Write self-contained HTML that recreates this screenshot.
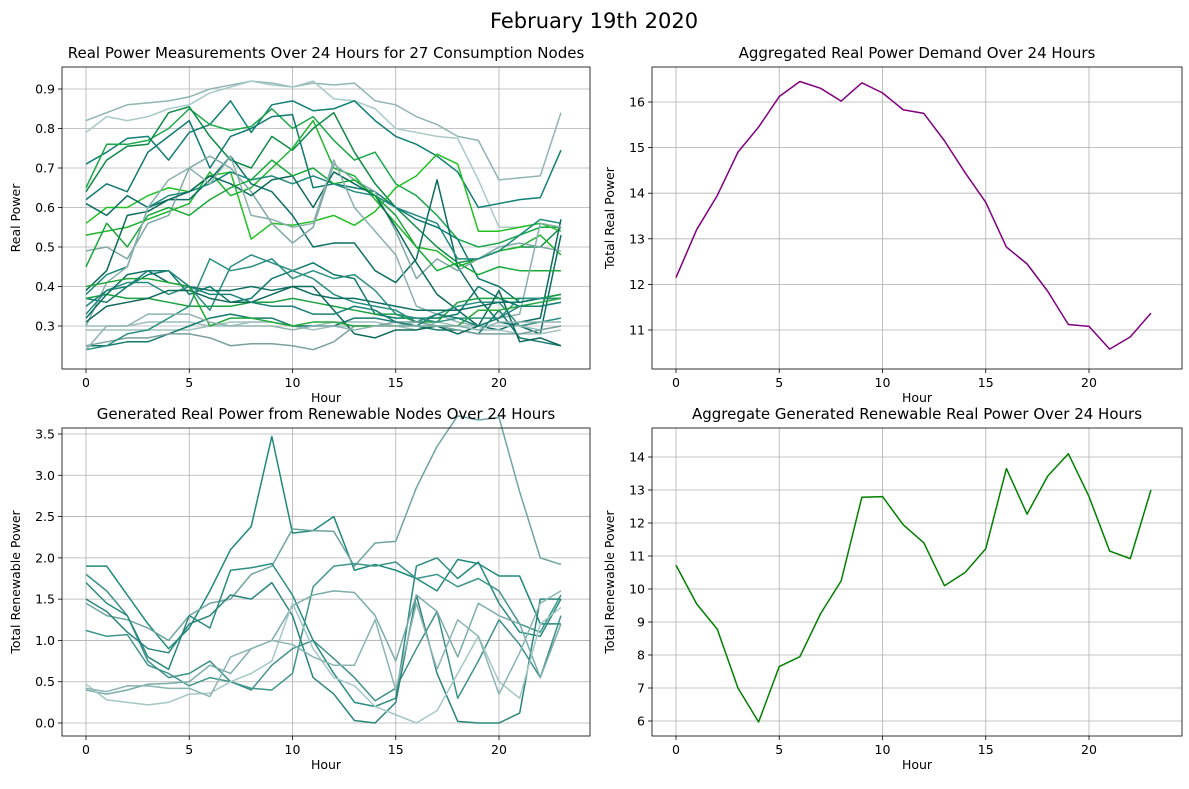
<!DOCTYPE html>
<html><head><meta charset="utf-8"><style>
body{margin:0;background:#fff}
svg{display:block;font-family:"DejaVu Sans","Liberation Sans",sans-serif}
</style></head><body>
<svg id="fig" width="1189" height="789" xmlns="http://www.w3.org/2000/svg">
<rect width="1189" height="789" fill="#fff"/>
<text x="594" y="28" font-size="21" text-anchor="middle">February 19th 2020</text>
</svg>
<script>
const hours=[...Array(24).keys()];
const demandTotal=[12.15,13.2,13.95,14.9,15.45,16.12,16.45,16.3,16.02,16.42,16.2,15.83,15.75,15.15,14.45,13.8,12.82,12.45,11.85,11.12,11.08,10.58,10.85,11.37];
const renewTotal=[10.72,9.55,8.78,7.0,5.97,7.65,7.95,9.25,10.25,12.78,12.8,11.95,11.4,10.1,10.5,11.22,13.65,12.27,13.42,14.1,12.8,11.15,10.92,13.0];
const renewNodes=[
[1.9,1.9,1.55,1.2,0.9,1.15,1.6,2.1,2.38,3.47,2.3,2.33,2.5,1.85,1.92,1.85,1.75,1.6,1.98,1.93,1.78,1.78,1.2,1.2],
[1.45,1.3,1.25,1.15,1.0,1.3,1.45,1.5,1.8,1.9,2.35,2.33,2.32,1.9,2.18,2.2,2.85,3.35,3.72,3.67,3.7,2.8,2.0,1.92],
[1.8,1.6,1.3,0.75,0.55,0.6,0.75,0.5,0.4,0.7,0.9,1.0,0.78,0.55,0.27,0.42,0.9,1.35,0.3,0.75,1.25,0.95,0.55,1.3],
[1.7,1.45,1.3,0.8,0.65,1.3,1.15,1.85,1.88,1.93,1.55,1.0,0.6,0.25,0.2,0.3,1.9,2.0,1.75,1.95,1.45,1.1,1.05,1.5],
[1.12,1.05,1.07,0.7,0.6,0.45,0.55,0.5,0.42,0.4,0.6,1.65,1.9,1.93,1.9,1.95,1.75,1.8,1.65,1.75,1.6,1.2,1.1,1.55],
[1.5,1.35,1.1,0.9,0.85,1.2,1.3,1.55,1.5,1.7,1.3,0.55,0.35,0.03,0.0,0.25,1.55,0.6,0.02,0.0,0.0,0.12,1.5,1.5],
[0.4,0.35,0.4,0.47,0.48,0.5,0.7,0.6,0.9,1.0,1.42,1.55,1.6,1.58,1.3,0.75,1.55,1.35,0.8,1.45,1.3,1.2,0.55,1.2],
[0.47,0.28,0.25,0.22,0.25,0.35,0.36,0.5,0.6,0.75,1.45,0.9,0.55,0.45,0.2,0.1,0.0,0.15,0.6,1.05,0.5,0.3,1.2,1.4],
[0.42,0.38,0.45,0.45,0.42,0.42,0.32,0.8,0.9,1.0,0.95,0.8,0.7,0.7,1.25,0.4,1.45,0.65,1.25,1.05,0.35,0.85,1.45,1.6]];
const renewColors=["#1f8a7a","#6fa5a0","#3d918a","#2a8c80","#3e968c","#2b857c","#7aacaa","#a4c8c6","#8ab5b2"];
const nodes=[
[.82,.84,.86,.865,.87,.88,.9,.91,.92,.915,.905,.915,.91,.915,.87,.86,.83,.81,.78,.77,.67,.675,.68,.84],
[.79,.83,.82,.83,.85,.86,.89,.905,.92,.91,.905,.92,.875,.87,.85,.8,.79,.78,.775,.67,.55,.55,.56,.55],
[.71,.74,.775,.78,.72,.79,.81,.87,.79,.86,.87,.845,.85,.87,.82,.78,.76,.73,.69,.6,.61,.62,.625,.745],
[.65,.76,.76,.77,.8,.85,.81,.795,.805,.85,.8,.83,.77,.72,.74,.66,.63,.58,.52,.5,.51,.53,.55,.55],
[.64,.72,.755,.76,.84,.855,.78,.72,.7,.78,.745,.8,.84,.74,.66,.6,.55,.5,.46,.47,.49,.5,.5,.55],
[.62,.66,.64,.74,.78,.82,.7,.78,.8,.83,.835,.65,.66,.65,.64,.6,.57,.55,.52,.42,.4,.36,.37,.38],
[.56,.6,.6,.63,.65,.64,.68,.69,.52,.56,.555,.565,.58,.555,.59,.65,.68,.735,.71,.54,.54,.55,.56,.54],
[.53,.54,.55,.57,.59,.61,.69,.63,.65,.7,.75,.82,.7,.68,.62,.56,.5,.49,.45,.47,.49,.5,.53,.48],
[.61,.58,.63,.6,.62,.62,.67,.73,.66,.64,.58,.5,.51,.51,.44,.41,.47,.67,.45,.37,.31,.3,.28,.53],
[.49,.5,.47,.56,.58,.7,.73,.7,.64,.56,.51,.55,.71,.67,.64,.54,.42,.47,.44,.47,.5,.51,.5,.49],
[.38,.43,.45,.6,.63,.64,.66,.69,.67,.68,.66,.68,.66,.64,.63,.6,.58,.56,.47,.47,.49,.53,.57,.56],
[.39,.44,.58,.59,.62,.64,.68,.66,.63,.67,.68,.6,.69,.66,.63,.55,.46,.38,.34,.3,.29,.31,.32,.57],
[.45,.56,.5,.58,.6,.58,.62,.65,.67,.72,.68,.7,.66,.67,.63,.58,.5,.44,.46,.43,.45,.44,.44,.44],
[.3,.41,.45,.6,.67,.7,.66,.73,.58,.57,.55,.56,.72,.6,.54,.48,.35,.33,.31,.3,.32,.33,.56,.55],
[.37,.36,.4,.43,.44,.38,.4,.36,.37,.42,.44,.46,.43,.42,.33,.32,.32,.32,.33,.4,.37,.35,.35,.36],
[.37,.38,.37,.37,.36,.35,.35,.35,.36,.36,.37,.36,.35,.34,.33,.33,.31,.31,.36,.37,.37,.37,.37,.38],
[.33,.39,.41,.41,.38,.4,.34,.45,.48,.46,.44,.42,.38,.36,.35,.34,.31,.33,.35,.36,.36,.3,.31,.32],
[.32,.38,.43,.44,.41,.4,.39,.39,.4,.39,.4,.38,.37,.37,.36,.35,.34,.34,.34,.35,.36,.36,.37,.37],
[.3,.3,.3,.31,.31,.31,.3,.3,.31,.31,.3,.3,.31,.31,.31,.3,.31,.3,.3,.3,.3,.3,.29,.3],
[.29,.29,.29,.29,.29,.29,.3,.31,.31,.31,.3,.29,.3,.3,.3,.3,.29,.31,.3,.29,.29,.28,.28,.29],
[.25,.25,.26,.26,.28,.3,.32,.33,.32,.32,.3,.3,.3,.32,.32,.31,.3,.29,.29,.28,.34,.27,.26,.25],
[.25,.26,.27,.27,.28,.28,.27,.25,.255,.255,.25,.24,.26,.3,.3,.31,.31,.3,.29,.28,.28,.28,.29,.3],
[.31,.35,.36,.37,.39,.39,.37,.36,.36,.38,.4,.4,.34,.28,.27,.29,.29,.3,.28,.3,.39,.26,.27,.25],
[.24,.25,.28,.29,.32,.35,.47,.44,.45,.47,.42,.44,.42,.43,.39,.33,.32,.31,.32,.32,.32,.37,.37,.37],
[.4,.41,.42,.42,.41,.4,.3,.32,.32,.31,.3,.31,.31,.3,.3,.3,.3,.3,.3,.34,.34,.35,.36,.37],
[.35,.39,.4,.44,.44,.4,.38,.38,.36,.35,.35,.33,.33,.35,.34,.31,.3,.33,.32,.3,.32,.35,.35,.36],
[.24,.3,.3,.33,.33,.33,.31,.3,.3,.3,.29,.3,.3,.29,.3,.3,.3,.3,.3,.29,.31,.31,.31,.31]];
const nodeColors=["#90b5b3","#a8cac8","#0f8075","#1aa84a","#0d8a45","#0e7a70","#22c022","#1db52e","#0b6e64","#7fa8a5","#1e8a7e","#0b6a5c","#19a83a","#8ab0ad","#0f7a6e","#1aa040","#2a8d82","#0d6e62","#9bbdbb","#a0c0be","#157a70","#7aa09d","#0e6a5a","#2a9080","#22a838","#1b8276","#8fb3b0"];
const xTicks=[0,5,10,15,20];
const tlTicks=[0.3,0.4,0.5,0.6,0.7,0.8,0.9];
const trTicks=[11,12,13,14,15,16];
const blTicks=[0.0,0.5,1.0,1.5,2.0,2.5,3.0,3.5];
const brTicks=[6,7,8,9,10,11,12,13,14];

const NS="http://www.w3.org/2000/svg";
const svg=document.getElementById('fig');
function el(tag,attrs,parent){const e=document.createElementNS(NS,tag);for(const k in attrs)e.setAttribute(k,attrs[k]);(parent||svg).appendChild(e);return e;}

function panel(o){
  const g=el('g',{});
  
  
  const xs=v=>o.x0+(v-0)*(o.x20-o.x0)/20;
  const ys=v=>o.ya+(v-o.va)*(o.yb-o.ya)/(o.vb-o.va);
  xTicks.forEach(t=>{
    el('line',{x1:xs(t),x2:xs(t),y1:o.T,y2:o.B,stroke:'#b0b0b0','stroke-width':0.8},g);
    el('line',{x1:xs(t),x2:xs(t),y1:o.B,y2:o.B+4,stroke:'#000','stroke-width':0.8},g);
    const tx=el('text',{x:xs(t),y:o.B+18,'font-size':12.5,'text-anchor':'middle'},g);tx.textContent=t;
    
    
  });
  o.yt.forEach(t=>{
    el('line',{x1:o.L,x2:o.R,y1:ys(t),y2:ys(t),stroke:'#b0b0b0','stroke-width':0.8},g);
    el('line',{x1:o.L-4,x2:o.L,y1:ys(t),y2:ys(t),stroke:'#000','stroke-width':0.8},g);
    const tx=el('text',{x:o.L-7,y:ys(t)+4.5,'font-size':12.5,'text-anchor':'end'},g);tx.textContent=o.fmt(t);
    
    
  });
  o.series.forEach((s,i)=>{
    const p=el('polyline',{points:s.map((v,j)=>xs(hours[j])+','+ys(v)).join(' '),fill:'none',stroke:o.colors[i%o.colors.length],'stroke-width':1.5,'stroke-linejoin':'round'},g);
    
    
  });
  el('rect',{x:o.L,y:o.T,width:o.R-o.L,height:o.B-o.T,fill:'none',stroke:'#000','stroke-width':0.8},g);
  const ti=el('text',{x:(o.L+o.R)/2,y:o.T-9,'font-size':15,'text-anchor':'middle'},g);ti.textContent=o.title;
  
  
  const xl=el('text',{x:(o.L+o.R)/2,y:o.B+33,'font-size':12.5,'text-anchor':'middle'},g);xl.textContent='Hour';
  
  
  const yl=el('text',{x:o.ylx,y:(o.T+o.B)/2,'font-size':12.5,'text-anchor':'middle',transform:`rotate(-90 ${o.ylx} ${(o.T+o.B)/2})`},g);yl.textContent=o.ylabel;
  
  
}
panel({name:'consumption-nodes-panel',L:62,R:590,T:67,B:369,x0:86,x20:499,ya:326,va:0.3,yb:89,vb:0.9,yt:tlTicks,fmt:t=>t.toFixed(1),series:nodes,colors:nodeColors,title:'Real Power Measurements Over 24 Hours for 27 Consumption Nodes',ylabel:'Real Power',ylx:20});
panel({name:'aggregate-demand-panel',L:652,R:1182,T:67,B:369,x0:676,x20:1089,ya:330,va:11,yb:102,vb:16,yt:trTicks,fmt:t=>t,series:[demandTotal],colors:['#800080'],title:'Aggregated Real Power Demand Over 24 Hours',ylabel:'Total Real Power',ylx:614});
panel({name:'renewable-nodes-panel',L:62,R:590,T:428,B:736,x0:86,x20:499,ya:723,va:0,yb:434,vb:3.5,yt:blTicks,fmt:t=>t.toFixed(1),series:renewNodes,colors:renewColors,title:'Generated Real Power from Renewable Nodes Over 24 Hours',ylabel:'Total Renewable Power',ylx:20});
panel({name:'aggregate-renewable-panel',L:652,R:1182,T:428,B:736,x0:676,x20:1089,ya:721,va:6,yb:457,vb:14,yt:brTicks,fmt:t=>t,series:[renewTotal],colors:['#008000'],title:'Aggregate Generated Renewable Real Power Over 24 Hours',ylabel:'Total Renewable Power',ylx:614});
</script>
</body></html>
